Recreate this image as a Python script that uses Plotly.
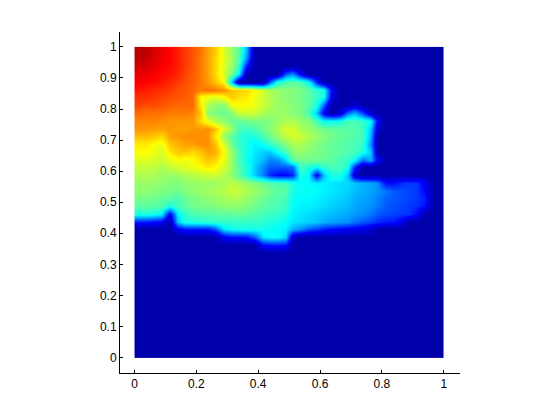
import plotly.graph_objects as go

N = 40
rows_top = [
 [98,97,93,90,87,84,81,78,75,70,65,57,50,44,28],
 [97,95,92,89,87,84,81,78,74,70,64,57,51,43,24],
 [94,93,91,88,86,84,81,78,74,70,64,57,50,40,14],
 [90,90,88,86,85,83,80,77,74,70,64,56,47,35,0,0,0,0,0,20,25,10],
 [88,87,86,85,83,81,79,77,74,71,66,60,30,0,0,0,0,20,38,42,44,42,36,15],
 [85,84,83,82,81,79,78,76,74,75,74,72,66,65,64,60,56,52,50,49,48,47,44,40,38,10],
 [82,82,81,80,79,78,77,76,60,58,57,60,66,63,62,58,55,52,50,48,48,46,44,40,37,8],
 [80,79,79,78,77,76,76,76,62,52,49,48,58,60,60,58,55,53,50,50,48,47,44,38,22,0,0,0,5],
 [76,75,75,75,74,74,74,73,66,49,47,45,48,55,55,55,52,50,50,50,48,47,42,30,10,0,5,22,28,18,5],
 [73,73,73,72,71,71,71,71,64,58,52,50,45,44,46,47,47,48,50,52,52,50,48,42,36,36,37,42,42,40,36,10],
 [71,71,70,70,71,70,70,71,71,72,66,56,50,42,41,42,46,48,52,56,56,52,50,48,46,45,44,44,43,41,30,5],
 [67,67,66,64,70,71,72,72,72,71,62,50,44,40,38,38,42,46,50,54,56,55,52,50,48,46,45,44,43,42,28],
 [62,62,60,58,66,68,70,70,72,72,66,56,46,40,37,34,36,40,44,48,52,52,50,48,46,45,44,43,42,40,25],
 [60,60,58,56,62,66,66,64,66,70,68,60,50,42,37,33,31,30,36,42,48,50,48,47,46,45,44,43,42,38,30],
]
rows_mid = [
 [57,57,56,55,57,60,58,60,63,66,64,58,50,42,37,32,29,24,25,32,44,46,46,46,45,44,42,40,36,22,28,10],
 [54,54,54,52,54,56,57,58,60,62,60,56,50,43,38,31,25,20,20,20,22,42,38,36,40,42,42,38,15],
 [52,52,52,50,50,50,52,53,54,55,55,53,49,44,38,30,24,16,12,12,15,38,35,10,30,38,38,30,5],
 [50,50,50,49,48,48,49,50,50,50,50,52,53,52,50,48,46,44,42,42,38,35,35,34,34,33,32,32,30,28,27,25,13,13,16,17,17,10],
 [49,49,48,47,47,46,48,49,50,51,52,53,55,54,52,50,48,46,44,44,37,36,36,35,34,33,32,31,29,28,27,25,23,20,19,18,17,12],
 [47,47,46,45,44,42,45,47,48,49,50,51,52,52,50,48,46,44,43,42,36,35,35,34,33,32,31,30,28,27,26,24,21,20,19,18,17,15],
 [44,44,44,43,38,42,44,46,47,47,48,49,49,49,48,46,44,43,42,41,35,34,34,33,32,31,30,29,27,26,25,23,20,19,18,17,16,13],
 [38,38,37,34,10,34,40,42,43,43,44,44,45,45,44,43,42,41,40,38,34,33,32,31,30,29,28,27,26,25,23,20,19,18,17,17,12],
 [14,14,12,10,0,30,37,38,39,39,40,40,40,40,40,40,39,38,37,36,33,32,31,30,28,27,26,25,22,20,18,16,14,14,10],
 [0,0,0,0,0,10,14,14,14,14,20,33,36,37,37,37,37,36,35,34,28,25,20,18,15,13,12,10,10,8,5],
 [0,0,0,0,0,0,0,0,0,0,0,10,13,13,14,20,33,35,35,32,5],
 [0,0,0,0,0,0,0,0,0,0,0,0,0,0,0,0,12,14,14,13],
]
tick_x = [0, 0.2, 0.4, 0.6, 0.8, 1]
tick_y = [0, 0.1, 0.2, 0.3, 0.4, 0.5, 0.6, 0.7, 0.8, 0.9, 1]

rows = rows_top + rows_mid
rows = rows + [[] for _ in range(N - len(rows))]
z = [[v / 100 for v in r] + [0] * (N - len(r)) for r in rows]
xc = [(i + 0.5) / N for i in range(N)]
yc = [1 - (j + 0.5) / N for j in range(N)]

jet = [[0, "rgb(0,0,170)"], [0.12, "rgb(0,0,255)"], [0.35, "rgb(0,255,255)"],
       [0.6, "rgb(255,255,0)"], [0.87, "rgb(255,0,0)"], [1, "rgb(170,0,0)"]]

fig = go.Figure(go.Heatmap(x=xc, y=yc, z=z, zmin=0, zmax=1, colorscale=jet,
                           zsmooth="best", showscale=False, hoverinfo="skip"))
axis = dict(showgrid=False, zeroline=False, showline=True, linecolor="black", linewidth=1,
            ticks="inside", ticklen=3, tickcolor="black", tickwidth=1, mirror=False)
fig.update_xaxes(range=[-0.047, 1.0526], tickmode="array", tickvals=tick_x,
                 ticktext=[str(t) for t in tick_x], **axis)
fig.update_yaxes(range=[-0.05, 1.048], tickmode="array", tickvals=tick_y,
                 ticktext=[str(t) for t in tick_y], **axis)
fig.update_layout(width=560, height=420, autosize=False, paper_bgcolor="white", plot_bgcolor="white",
                  margin=dict(l=112, r=108, t=24, b=54.5),
                  font=dict(family="Liberation Sans, Arial", size=12, color="black"))
fig.write_html("out.html")
